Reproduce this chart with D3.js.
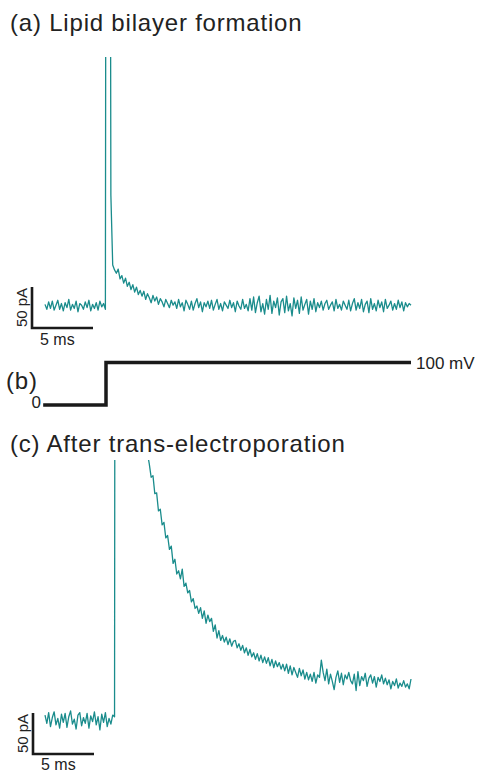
<!DOCTYPE html>
<html>
<head>
<meta charset="utf-8">
<script src="https://cdn.jsdelivr.net/npm/d3@7"></script>
<style>
  body { margin: 0; background: #fff; }
  svg text { font-family: "Liberation Sans", Arial, sans-serif; fill: #222; }
</style>
</head>
<body>
<div id="chart-area"></div>
<script>
// sampling interval of both current traces (ms)
var dt = 0.15;

// (a) current during lipid bilayer formation, pA relative to baseline
var traceA = [
    2, -4, 5, -3, 6, -5, 1, 7, -4, 3, -6, 4, -2, 8, -5, 2, -3, 6, -7, 3,
    1, -4, 5, -2, 7, -6, 2, -3, 4, -5, 6, -1, 3, -4,
    2000, 1400, 135, 50,
    44, 40, 45, 33, 37, 28, 34, 24, 29, 20, 26, 17, 23, 14, 19, 12, 18, 8, 15, 10,
    4, 13, 6, 11, 2, 9, 5, -1, 8, 3, -2, 7, 1,
    5, -3, 8, -1, 4, -6, 7, 2, -4, 6, -5, 3, 9, -2, 5, -7, 4, -1, 6, -3,
    7, -5, 2, 8, -4, 3, -6, 5, 1, -3, 7, -2, 4, -7, 6, 0, -4, 8, -3, 2,
    -6, 9, -5, 11, -8, 4, 12, -7, 3, -10, 8, -4, 13, -9, 6, -2, 10, -11, 5, 9,
    -8, 12, -6, 3, -12, 10, -3, 7, -9, 11, -5, 2, 8, -10, 6, -4, 9, -7, 4, -2,
    6, -5, 3, 7, -4, 1, 5, -6, 8, -3, 2, -5, 6, 1, -4, 7, -6, 3, 9, -5,
    4, -3, 8, -7, 2, 6, -8, 9, -4, 3, -6, 7, -2, 5, -7, 8, -3, 1, 6, -5,
    3, -4, 7, -2, 5, -6, 4, -1, 3, 1
];

// (c) current after trans-electroporation, pA relative to baseline
var traceC = [
    6, -4, 9, -8, 3, 10, -6, 2, -10, 7, -3, 8, -9, 4, 11, -5, 1, -11, 6, 9,
    -7, 3, -4, 8, -10, 5, -2, 10, -6, 4, -12, 7, -3, 9, -8, 2, -5, 6, 4,
    2500, 2300, 2100, 1900, 1700, 1500, 1300, 1150, 1000, 880, 770, 670, 580, 500, 440, 390, 350,
    325,
    312, 296, 298, 276, 277, 255,
    257, 238, 241, 222, 225,
    208, 212, 191, 196, 178,
    182, 172, 184, 163, 167,
    155, 158, 144, 148, 136, 139,
    130, 137, 124, 133, 118, 128, 120,
    124, 108, 116, 100, 109, 97,
    103, 95, 101, 92, 99, 90, 96,
    97, 88, 93, 85, 91, 82, 88, 79, 86, 77, 82,
    74, 81, 72, 79, 70, 77, 69, 76, 66, 74, 64, 72, 65, 70, 62, 68,
    60, 68, 57, 66, 55, 64, 58, 52, 63, 54, 61, 50, 58, 49, 56,
    47, 58, 45, 55, 52, 73, 58, 48, 62, 44, 56, 47, 37, 52, 60, 46, 57, 43, 55, 50, 58, 48,
    44, 56, 36, 59, 42, 53, 48, 57, 41, 51, 55, 45, 53, 40, 52, 47, 55, 44,
    51, 43, 49, 38, 47, 42, 50, 39, 45, 41, 48, 40, 44, 38, 50
];

// (b) voltage step protocol
var stepTimes = [-0.15, 5, 5, 30];
var stepVolts = [0, 0, 100, 100];

var titles = ["(a) Lipid bilayer formation", "(c) After trans-electroporation"];
var scaleBarMs = 5, scaleBarPA = 50;

var width = 482, height = 772;
var traceColor = "#1a8c8c";

var svg = d3.select("#chart-area").append("svg")
    .attr("width", width)
    .attr("height", height);

var x = d3.scaleLinear().domain([0, 30]).range([45, 411]);
var yA = d3.scaleLinear().domain([0, 50]).range([306, 265]);
var yC = d3.scaleLinear().domain([0, 50]).range([720, 679]);
var yB = d3.scaleLinear().domain([0, 100]).range([405, 362.5]);

var defs = svg.append("defs");
defs.append("clipPath").attr("id", "clipA")
    .append("rect").attr("x", 0).attr("y", 57).attr("width", width).attr("height", 300);
defs.append("clipPath").attr("id", "clipC")
    .append("rect").attr("x", 0).attr("y", 460).attr("width", width).attr("height", 300);

function drawTrace(values, yScale, clipId) {
    var line = d3.line()
        .x((d, i) => x(i * dt))
        .y((d) => yScale(d));
    svg.append("path")
        .datum(values)
        .attr("clip-path", "url(#" + clipId + ")")
        .attr("fill", "none")
        .attr("stroke", traceColor)
        .attr("stroke-width", 1.3)
        .attr("stroke-linejoin", "round")
        .attr("d", line);
}

function drawScaleBar(x0, yBase, yScale, labelY) {
    var len = yScale(0) - yScale(scaleBarPA);
    var w = x(scaleBarMs) - x(0);
    svg.append("path")
        .attr("fill", "none")
        .attr("stroke", "#1a1a1a")
        .attr("stroke-width", 2.6)
        .attr("d", "M" + x0 + "," + (yBase - len) + "V" + yBase + "H" + (x0 + w));
    svg.append("text")
        .attr("x", x0 + 8)
        .attr("y", labelY)
        .attr("font-size", "16px")
        .text(scaleBarMs + " ms");
    svg.append("text")
        .attr("transform", "translate(" + (x0 - 5) + "," + (yBase - len / 2) + ") rotate(-90)")
        .attr("text-anchor", "middle")
        .attr("font-size", "15px")
        .text(scaleBarPA + " pA");
}

// titles
svg.append("text").attr("x", 10).attr("y", 31).attr("font-size", "24px")
    .attr("letter-spacing", "0.8px").text(titles[0]);
svg.append("text").attr("x", 10).attr("y", 452).attr("font-size", "24px")
    .attr("letter-spacing", "0.8px").text(titles[1]);

// (a)
drawTrace(traceA, yA, "clipA");
drawScaleBar(32, 328, yA, 345);

// (b) step
var stepLine = d3.line()
    .x((d, i) => x(stepTimes[i]))
    .y((d) => yB(d));
svg.append("path")
    .datum(stepVolts)
    .attr("fill", "none")
    .attr("stroke", "#1a1a1a")
    .attr("stroke-width", 3.5)
    .attr("d", stepLine);
svg.append("text").attr("x", 6).attr("y", 389).attr("font-size", "24px")
    .attr("letter-spacing", "0.8px").text("(b)");
svg.append("text").attr("x", 41).attr("y", yB(0) + 3).attr("text-anchor", "end")
    .attr("font-size", "17px").text("0");
svg.append("text").attr("x", 416).attr("y", yB(100) + 6)
    .attr("font-size", "17px").text("100 mV");

// (c)
drawTrace(traceC, yC, "clipC");
drawScaleBar(33, 754, yC, 770);
</script>
</body>
</html>
